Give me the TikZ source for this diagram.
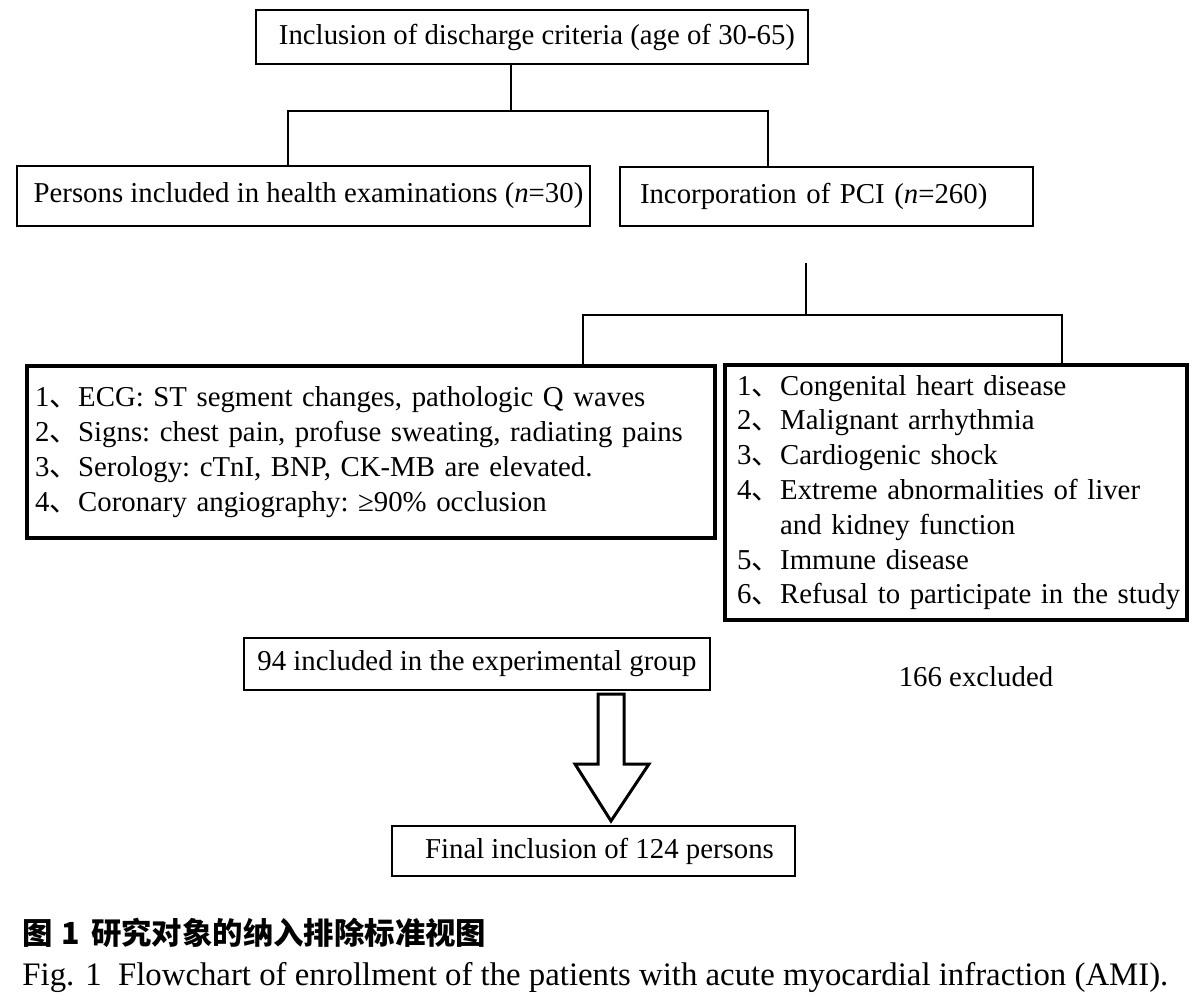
\documentclass[tikz,border=0pt]{standalone}
\usepackage{fontspec}
\setmainfont{Liberation Serif}
\newfontfamily\cjk{Noto Sans CJK SC}
\usetikzlibrary{positioning, calc}
\newcommand{\dun}{{\cjk 、}}

\tikzset{
  box/.style={draw, line width=1pt, inner sep=0pt, font=\fontsize{14.4}{17.4}\selectfont\frenchspacing},
  listbox/.style={box, line width=2pt, align=left},
  link/.style={line width=1pt},
  hollowArrow/.style={draw, line width=1.5pt, fill=white, line join=miter},
}

\begin{document}
\begin{tikzpicture}[x=0.5pt, y=-0.5pt]
\useasboundingbox (0,0) rectangle (1200,1006);

% Top level
\node[box, minimum width=276pt, minimum height=27pt] (criteria) at (532,37) {\hspace*{5pt}Inclusion of discharge criteria (age of 30-65)};
\node[box, minimum width=286.5pt, minimum height=30pt] (health) at (303.5,196) {\hspace*{5pt}Persons included in health examinations (\textit{n}=30)};
\node[box, text width=186.5pt, inner xsep=10pt, align=left, minimum height=29.5pt] (pci) at (826.5,196.5) {Incorporation of PCI (\textit{n}=260)};

% First split
\coordinate (trunk1) at ($(criteria.south)+(-21,0)$);
\coordinate (hin) at ($(health.north)+(-15.5,0)$);
\coordinate (pin) at ($(pci.north)+(-58.5,0)$);
\draw[link] (trunk1) -- ++(0,46) coordinate (split1);
\draw[link] (hin) |- (split1) -| (pin);

% Criteria and exclusions
\node[listbox, text width=336pt, inner xsep=4pt, minimum height=86pt] (ecg) at (371,452) {%
\begin{tabular}{@{}l@{}l@{}}
1\dun & ECG: ST segment changes, pathologic Q waves\\
2\dun & Signs: chest pain, profuse sweating, radiating pains\\
3\dun & Serology: cTnI, BNP, CK-MB are elevated.\\
4\dun & Coronary angiography: ≥90\% occlusion
\end{tabular}};
\node[listbox, text width=219pt, inner xsep=6pt, minimum height=127.5pt] (excl) at (956,492.5) {%
\begin{tabular}{@{}l@{}l@{}}
1\dun & Congenital heart disease\\
2\dun & Malignant arrhythmia\\
3\dun & Cardiogenic shock\\
4\dun & Extreme abnormalities of liver\\
      & and kidney function\\
5\dun & Immune disease\\
6\dun & Refusal to participate in the study
\end{tabular}};

% Second split
\coordinate (trunk2) at ($(pci.south)+(-20.5,36)$);
\coordinate (ein) at ($(ecg.north)+(212,0)$);
\coordinate (xin) at ($(excl.north)+(106,0)$);
\draw[link] (trunk2) -- ++(0,52) coordinate (split2);
\draw[link] (ein) |- (split2) -| (xin);

% Result
\node[box, minimum width=233pt, minimum height=26pt] (group94) at (477,664) {94 included in the experimental group};
\node[font=\fontsize{14.4}{17.4}\selectfont] (excluded) at (976,677) {166 excluded};
\node[box, minimum width=201.5pt, minimum height=25pt] (final) at (593.5,851) {\hspace*{6pt}Final inclusion of 124 persons};

% Block arrow
\coordinate (arrowTop) at ($(group94.south)+(134,3)$);
\coordinate (arrowTip) at ($(final.north)+(17.5,-4)$);
\draw[hollowArrow] (arrowTop) ++(-13,0) -- ($(arrowTip)+(-13,-57)$) -- ($(arrowTip)+(-36,-57)$)
  -- (arrowTip) -- ($(arrowTip)+(38,-57)$) -- ($(arrowTip)+(13,-57)$) -- ($(arrowTop)+(13,0)$) -- cycle;

% Caption
\node[anchor=west, inner sep=0pt, font=\fontsize{15.2}{18}\selectfont\cjk\bfseries] (capCn) at (22,933) {图\hspace{0.3em}1\hspace{0.35em}研究对象的纳入排除标准视图};
\node[anchor=west, inner sep=0pt, font=\fontsize{16.4}{19}\selectfont] (capEn) at (22,977) {Fig. 1\enspace Flowchart of enrollment of the patients with acute myocardial infraction (AMI).};
\end{tikzpicture}
\end{document}
